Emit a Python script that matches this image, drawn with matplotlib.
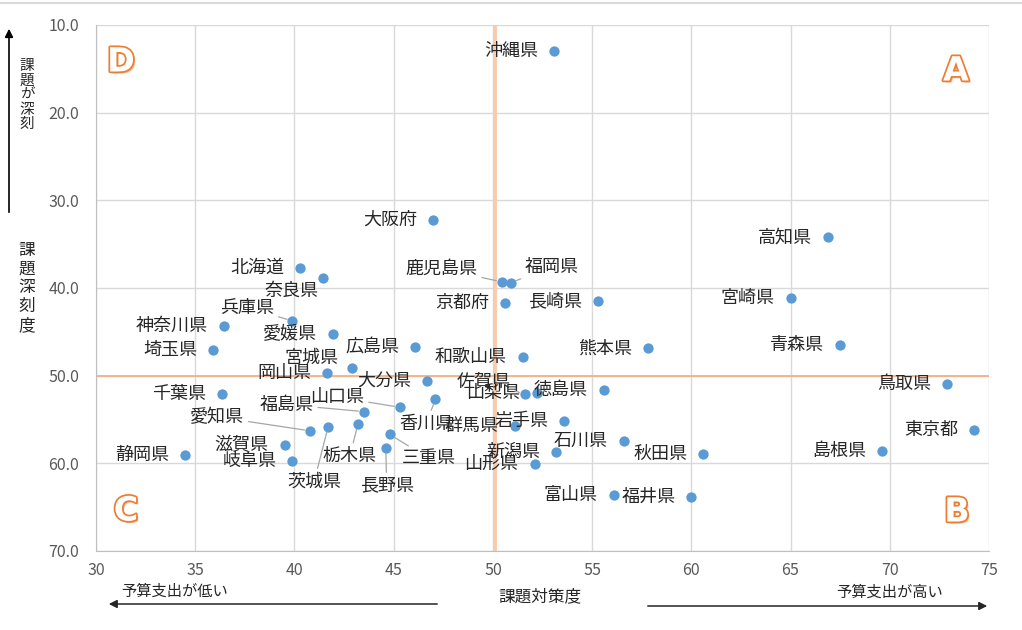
import numpy as np
import matplotlib
matplotlib.use("Agg")
import matplotlib.pyplot as plt
from matplotlib import patheffects as pe
from matplotlib.lines import Line2D

plt.rcParams['font.family'] = ['Noto Sans CJK JP', 'DejaVu Sans']

# 都道府県ごとの 課題対策度 (x) と 課題深刻度 (y)
names = ['北海道', '青森県', '岩手県', '宮城県', '秋田県', '山形県', '福島県',
         '茨城県', '栃木県', '群馬県', '埼玉県', '千葉県', '東京都', '神奈川県',
         '新潟県', '富山県', '石川県', '福井県', '山梨県', '長野県', '岐阜県',
         '静岡県', '愛知県', '三重県', '滋賀県', '京都府', '大阪府', '兵庫県',
         '奈良県', '和歌山県', '鳥取県', '島根県', '岡山県', '広島県', '山口県',
         '徳島県', '香川県', '愛媛県', '高知県', '福岡県', '佐賀県', '長崎県',
         '熊本県', '大分県', '宮崎県', '鹿児島県', '沖縄県']
taisaku = [40.3, 67.5, 53.6, 42.9, 60.6, 52.1, 43.5,
           41.7, 43.2, 51.1, 35.9, 36.35, 74.25, 36.45,
           53.2, 56.1, 56.6, 60.0, 52.2, 44.6, 39.9,
           34.5, 40.8, 44.8, 39.5, 50.6, 47.0, 39.9,
           41.45, 51.5, 72.9, 69.6, 41.65, 46.1, 45.3,
           55.6, 47.1, 41.95, 66.9, 50.9, 51.6, 55.3,
           57.8, 46.7, 65.0, 50.45, 53.1]
shinkoku = [37.7, 46.5, 55.2, 49.1, 58.9, 60.1, 54.1,
            55.8, 55.5, 55.7, 47.1, 52.1, 56.2, 44.3,
            58.7, 63.6, 57.4, 63.8, 52.0, 58.2, 59.7,
            59.0, 56.3, 56.7, 57.9, 41.7, 32.2, 43.75,
            38.85, 47.9, 51.0, 58.6, 49.7, 46.7, 53.6,
            51.6, 52.7, 45.2, 34.2, 39.4, 52.1, 41.5,
            46.9, 50.6, 41.1, 39.3, 13.0]
x_ticks = [30, 35, 40, 45, 50, 55, 60, 65, 70, 75]
y_ticks = [10, 20, 30, 40, 50, 60, 70]
x_mid = 50.1
y_mid = 50.0

# label placement (pixel offsets of label centre from the point), leader flag
moved = {
    '奈良県': (-32, 13, False), '兵庫県': (-45, -13, True), '宮城県': (-40, -10, False),
    '鹿児島県': (-60, -13, True), '福岡県': (41, -16, True), '佐賀県': (-41, -13, True),
    '香川県': (-9, 24, True), '三重県': (39, 24, True), '長野県': (1, 38, True),
    '栃木県': (-8, 32, True), '茨城県': (-14, 55, True), '愛知県': (-93, -14, True),
    '福島県': (-77, -7, True), '山口県': (-62, -10, True),
}

fig = plt.figure(figsize=(10.22, 6.3), dpi=100)
ax = fig.add_axes([96 / 1022, 1 - 551 / 630, (989 - 96) / 1022, (551 - 25) / 630])

ax.set_xlim(30, 75)
ax.set_ylim(70, 10)
ax.set_xticks(x_ticks)
ax.set_yticks(y_ticks)
ax.set_yticklabels(['%.1f' % v for v in y_ticks])
ax.tick_params(length=0, labelsize=11.5, labelcolor='#595959')
ax.tick_params(axis='x', pad=8)
ax.tick_params(axis='y', pad=12)
ax.grid(True, color='#d9d9d9', linewidth=1)
ax.set_axisbelow(True)
for s in ['top', 'right']:
    ax.spines[s].set_visible(False)
for s in ['left', 'bottom']:
    ax.spines[s].set_color('#bfbfbf')

ax.axvline(x_mid, color='#f8cbad', linewidth=2.8, zorder=1)
ax.axhline(y_mid, color='#f4b183', linewidth=1.3, zorder=1)

ax.scatter(taisaku, shinkoku, s=55, color='#5b9bd5', zorder=3, linewidths=0)

k = 0.72  # px -> points
for n, xv, yv in zip(names, taisaku, shinkoku):
    if n in moved:
        dx, dy, leader = moved[n]
        props = dict(arrowstyle='-', color='#a6a6a6', lw=0.9, shrinkA=1, shrinkB=4) if leader else None
        ax.annotate(n, (xv, yv), xytext=(dx * k, -dy * k), textcoords='offset points',
                    ha='center', va='center', fontsize=13, color='#262626',
                    arrowprops=props, zorder=4)
    else:
        ax.annotate(n, (xv, yv), xytext=(-16 * k, 0), textcoords='offset points',
                    ha='right', va='center', fontsize=13, color='#262626', zorder=4)

# quadrant letters
fx = lambda px: px / 1022
fy = lambda py: 1 - py / 630
eff = [pe.withSimplePatchShadow(offset=(1.5, -1.5), shadow_rgbFace='#f4b183', alpha=0.9),
       pe.Stroke(linewidth=2.5, foreground='#ed7d31'), pe.Normal()]
for letter, px, py in [('D', 121, 62), ('A', 956, 71), ('B', 957, 512), ('C', 126, 511)]:
    fig.text(fx(px), fy(py), letter, ha='center', va='center', fontsize=24,
             fontweight='bold', color='white', family='DejaVu Sans', path_effects=eff)

# axis titles and arrows
fig.text(fx(27), fy(95), '\n'.join('課題が深刻'), ha='center', va='center',
         fontsize=10.5, linespacing=1.05, color='#262626')
fig.text(fx(27), fy(288), '\n'.join('課題深刻度'), ha='center', va='center',
         fontsize=12, linespacing=1.15, color='#262626')
fig.add_artist(matplotlib.patches.FancyArrowPatch((fx(9), fy(215)), (fx(9), fy(26)),
               transform=fig.transFigure, arrowstyle='-|>', mutation_scale=12,
               color='black', lw=1.2))

fig.text(fx(540), fy(597), '課題対策度', ha='center', va='center', fontsize=12, color='#262626')
fig.text(fx(175), fy(591), '予算支出が低い', ha='center', va='center', fontsize=11, color='#262626')
fig.text(fx(890), fy(592), '予算支出が高い', ha='center', va='center', fontsize=11, color='#262626')
fig.add_artist(matplotlib.patches.FancyArrowPatch((fx(440), fy(604)), (fx(106), fy(604)),
               transform=fig.transFigure, arrowstyle='-|>', mutation_scale=12,
               color='#262626', lw=1.1))
fig.add_artist(matplotlib.patches.FancyArrowPatch((fx(645), fy(606)), (fx(990), fy(606)),
               transform=fig.transFigure, arrowstyle='-|>', mutation_scale=12,
               color='#262626', lw=1.1))

fig.add_artist(Line2D([0, 1], [fy(3), fy(3)], transform=fig.transFigure,
                      color='#d9d9d9', lw=1.5))

fig.savefig('out.png', dpi=100)
